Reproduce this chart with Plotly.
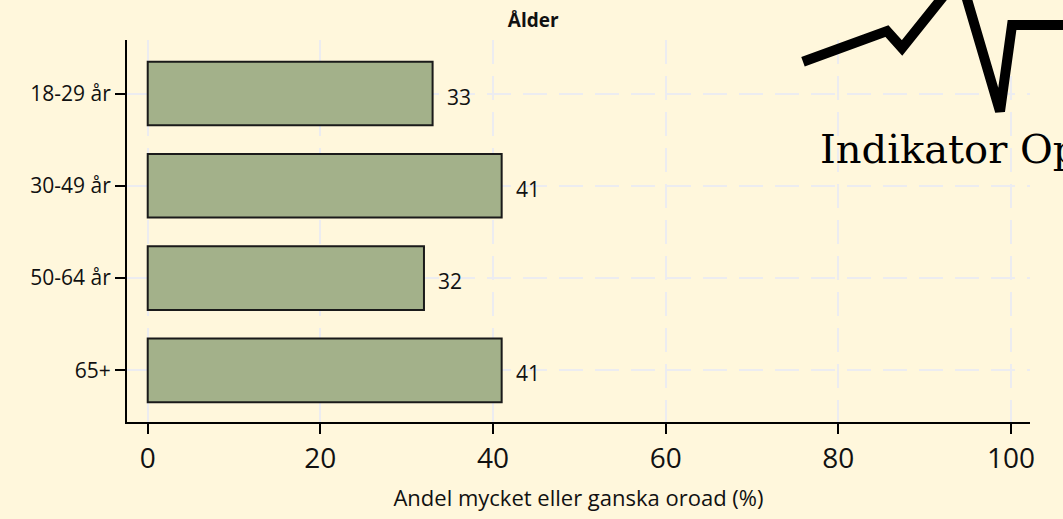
import plotly.graph_objects as go

categories = ["18-29 år", "30-49 år", "50-64 år", "65+"]
values = [33, 41, 32, 41]
x_ticks = [0, 20, 40, 60, 80, 100]
title_text = "Ålder"
x_title = "Andel mycket eller ganska oroad (%)"
logo_text = "Indikator Opinion"

W, H = 1063, 519
ML, MR, MT, MB = 127, 33, 40, 94
PW, PH = W - ML - MR, H - MT - MB

def px(xp):
    return (xp - ML) / PW

def py(yp):
    return (H - MB - yp) / PH

FONT = "Open Sans, Roboto, sans-serif"

fig = go.Figure()
fig.add_trace(go.Bar(
    y=categories, x=values, orientation="h",
    marker=dict(color="#A3B18A", line=dict(color="#1a1a1a", width=2)),
    width=0.69, hoverinfo="skip",
))

for c, v in zip(categories, values):
    fig.add_annotation(x=v, y=c, xref="x", yref="y", text=str(v), showarrow=False,
                       xanchor="left", xshift=12, yshift=-3,
                       font=dict(family=FONT, size=21, color="#111"))

# logo watermark
logo_pts = [(803, 62), (887, 31), (902, 48), (960, -25), (1000, 112), (1012, 25), (1070, 25)]
path = "M " + " L ".join(f"{px(a):.4f},{py(b):.4f}" for a, b in logo_pts)
fig.add_shape(type="path", path=path, xref="paper", yref="paper",
              line=dict(color="black", width=10), layer="above")
fig.add_annotation(x=px(818), y=py(150), xref="paper", yref="paper", text=logo_text,
                   showarrow=False, xanchor="left", yanchor="middle",
                   font=dict(family="DejaVu Serif, serif", size=40, color="black"))

grid = dict(showgrid=True, gridcolor="#ECECF0", gridwidth=2, griddash="24px,12px")

fig.update_layout(
    width=W, height=H,
    margin=dict(l=ML, r=MR, t=MT, b=MB),
    paper_bgcolor="#FFF7DC", plot_bgcolor="#FFF7DC",
    showlegend=False,
    title=dict(text=f"<b>{title_text}</b>", x=px(580), xanchor="center", y=1 - 20 / H, yanchor="middle",
               font=dict(family=FONT, size=19, color="#111")),
    xaxis=dict(range=[-2.4, 102.2], tickvals=x_ticks, ticks="outside", ticklen=10, tickwidth=1.5,
               tickcolor="black", showline=True, linecolor="black", linewidth=2, zeroline=False,
               tickfont=dict(family=FONT, size=28, color="#111"),
               title=dict(text=x_title, font=dict(family=FONT, size=22, color="#111"), standoff=16),
               **grid),
    yaxis=dict(categoryorder="array", categoryarray=categories, autorange=False,
               range=[3.56, -0.58], ticks="outside", ticklen=10, tickwidth=1.5, tickcolor="black",
               showline=True, linecolor="black", linewidth=2, zeroline=False,
               tickfont=dict(family=FONT, size=21, color="#111"), **grid),
)

fig.write_html("out.html", config={"displayModeBar": False},
               post_script="document.body.style.margin='0';")
